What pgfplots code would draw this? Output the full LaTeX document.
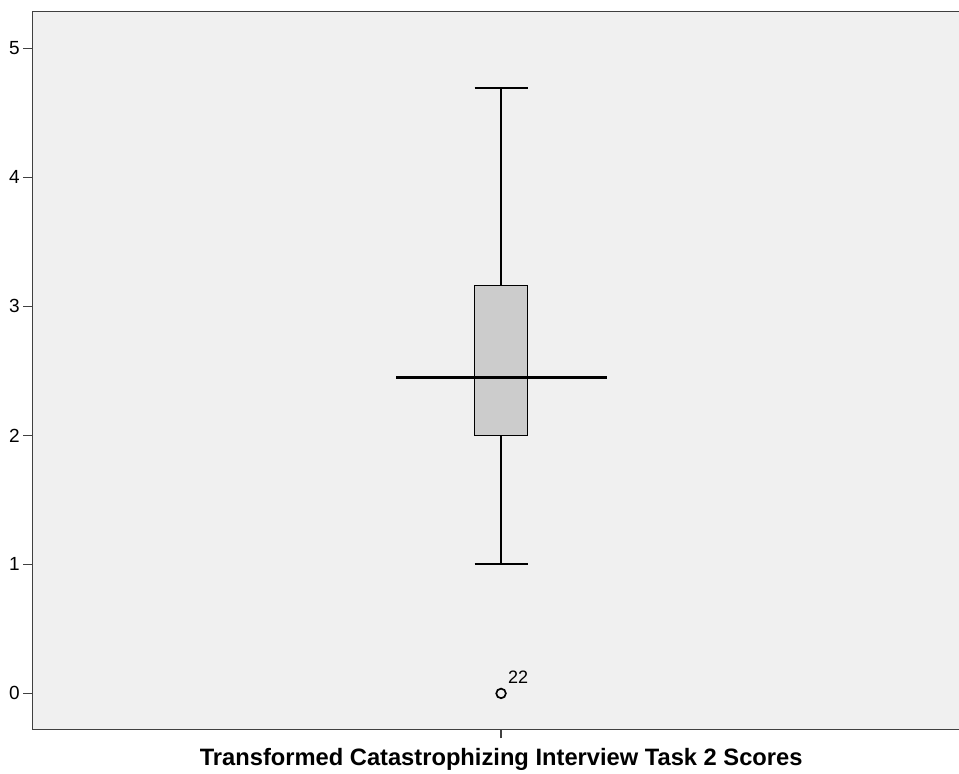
\documentclass[border=0pt]{standalone}
\usepackage{fontspec}
\setmainfont{Liberation Sans}
\usepackage{pgfplots}
\pgfplotsset{compat=1.18}
\definecolor{plotbg}{HTML}{F0F0F0}
\definecolor{boxgray}{HTML}{CCCCCC}
\definecolor{spine}{HTML}{404040}
\begin{document}
\begin{tikzpicture}
% fix the page to the reference frame (right spine falls outside)
\useasboundingbox (-32.3pt,-44.7pt) rectangle (926.7pt,729.3pt);
\begin{axis}[
    at={(0,0)}, anchor=south west,
    scale only axis,
    width=927.7pt, height=717.6pt,
    xmin=0, xmax=1.979,
    ymin=-0.278, ymax=5.284,
    axis background/.style={fill=plotbg},
    axis line style={spine, line width=1.3pt},
    xtick={1}, xticklabels={},
    ytick={0,1,2,3,4,5},
    xtick pos=bottom, ytick pos=left,
    tick align=outside,
    major tick length=9pt,
    tick style={spine, line width=1.3pt},
    yticklabel style={font=\fontsize{19}{22}\selectfont},
    /pgf/number format/assume math mode=true,
    xlabel={Transformed Catastrophizing Interview Task 2 Scores},
    xlabel style={font=\fontsize{23.7}{28}\selectfont\bfseries, inner sep=0pt,
        at={(axis description cs:0.5054,0)}, anchor=north, yshift=-19pt},
    clip=false,
]
    % box: lower quartile 2.0, upper quartile 3.163
    \addplot[draw=black, line width=1.3pt, fill=boxgray]
        coordinates {(0.9435,2.0) (1.0565,2.0) (1.0565,3.163) (0.9435,3.163)} -- cycle;

    % whiskers and caps
    \addplot[black, line width=2pt] coordinates {(1,3.163) (1,4.692)};
    \addplot[black, line width=2pt] coordinates {(0.9435,4.692) (1.0565,4.692)};
    \addplot[black, line width=2pt] coordinates {(1,2.0) (1,1.0)};
    \addplot[black, line width=2pt] coordinates {(0.9435,1.0) (1.0565,1.0)};

    % long median line
    \addplot[black, line width=3pt] coordinates {(0.776,2.447) (1.226,2.447)};

    % outlier, case 22
    \addplot[only marks, mark=o, mark size=4.8pt,
        mark options={line width=1.7pt, black},
        nodes near coords={22},
        every node near coord/.append style={font=\fontsize{18}{21}\selectfont,
            anchor=center, xshift=17pt, yshift=16pt}]
        coordinates {(1,0)};
\end{axis}
\end{tikzpicture}
\end{document}
